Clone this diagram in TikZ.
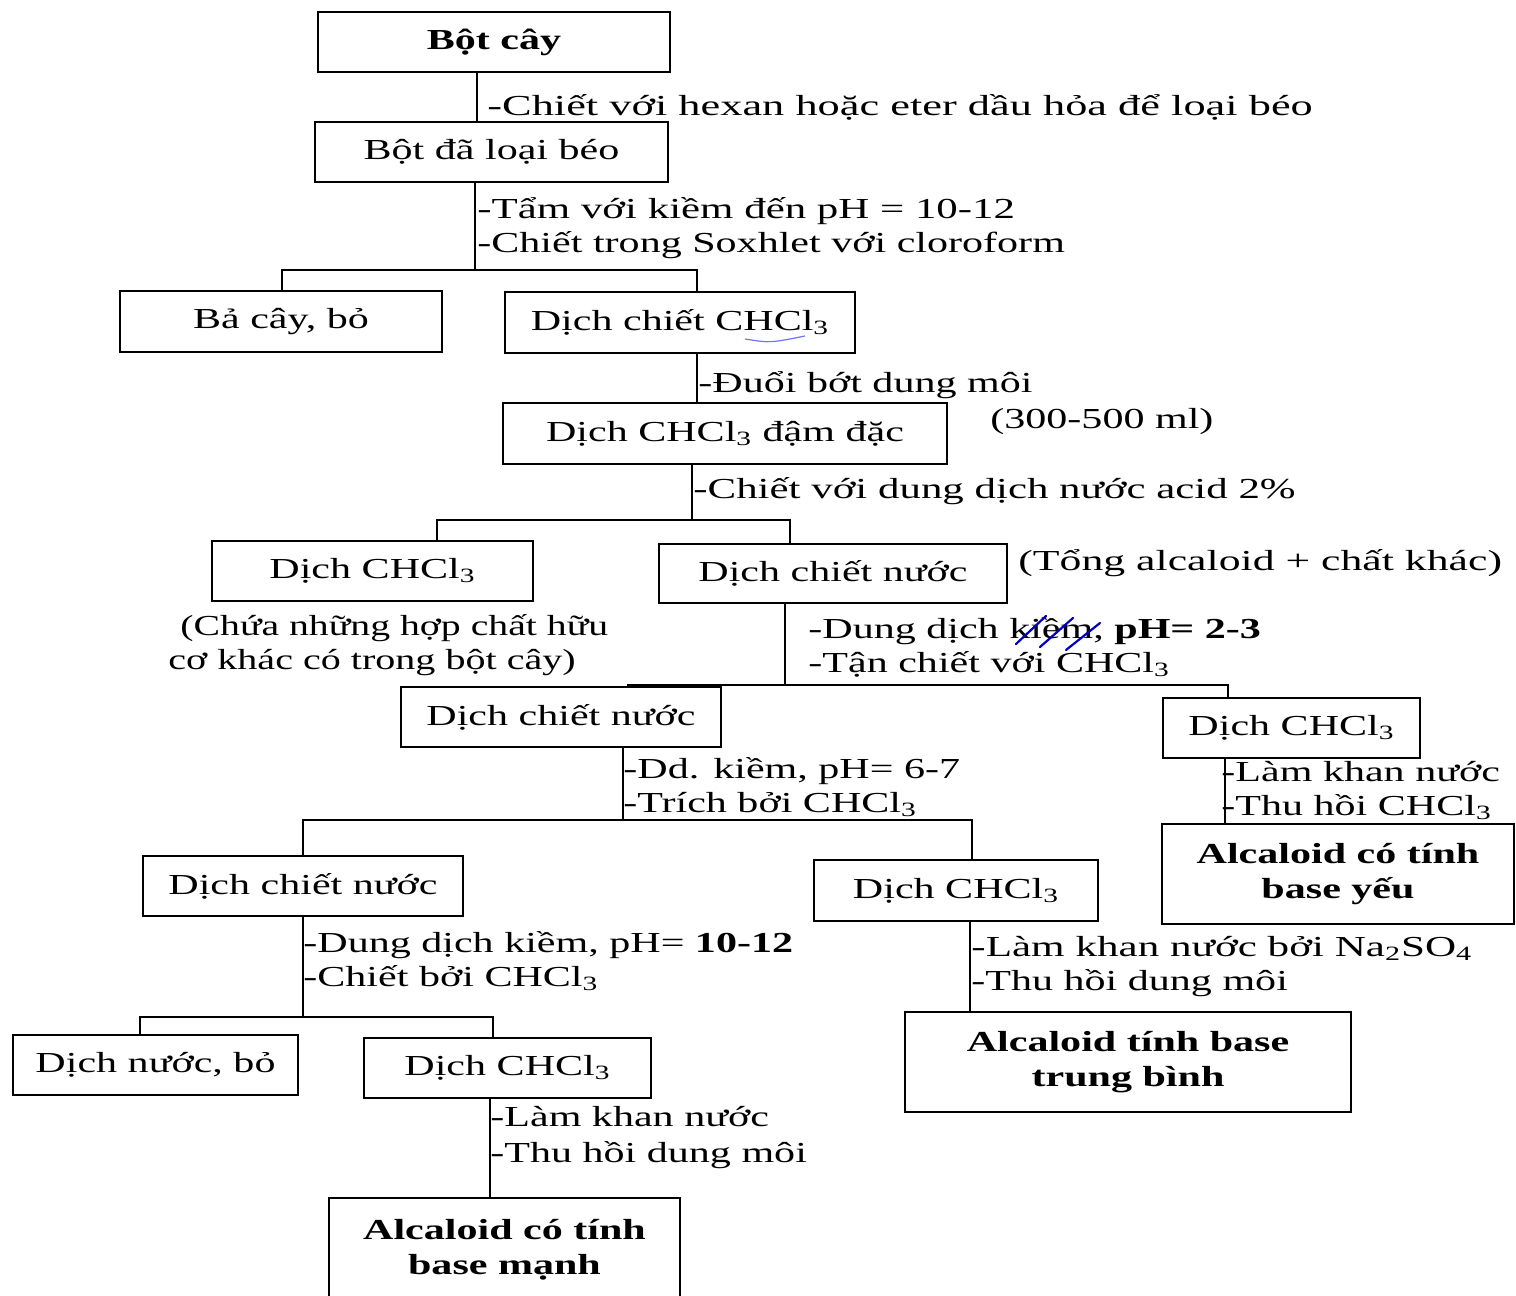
\documentclass[tikz,border=0pt]{standalone}
\usepackage{fontspec}
\setmainfont{Liberation Serif}[FakeStretch=1.45]
\newcommand{\chcl}{CHCl\textsubscript{3}}
\begin{document}
\begin{tikzpicture}[x=0.5pt,y=-0.5pt,
 box/.style={draw, line width=1.2pt, inner sep=0pt, align=center},
 lbl/.style={anchor=base west, inner sep=0pt},
 conn/.style={line width=1pt},
 font=\fontsize{14.5}{17.5}\selectfont]
\useasboundingbox (0,0) rectangle (1516,1296);
\fill[white] (0,0) rectangle (1516,1296);
% boxes
\node[box, minimum width=176pt, minimum height=30pt] (b1) at (494,42) {\textbf{Bột cây}};
\node[box, minimum width=176.5pt, minimum height=30pt] (b2) at (491.5,152) {Bột đã loại béo};
\node[box, minimum width=161pt, minimum height=30.5pt] (b3) at (281,321.5) {Bả cây, bỏ};
\node[box, minimum width=175pt, minimum height=30.5pt] (b4) at (680,322.5) {Dịch chiết \chcl};
\node[box, minimum width=222pt, minimum height=30.5pt] (b5) at (725,433.5) {Dịch \chcl{} đậm đặc};
\node[box, minimum width=160.5pt, minimum height=30pt] (b6) at (372.5,571) {Dịch \chcl};
\node[box, minimum width=174pt, minimum height=29.5pt] (b7) at (833,573.5) {Dịch chiết nước};
\node[box, minimum width=160pt, minimum height=30pt] (b8) at (561,717) {Dịch chiết nước};
\node[box, minimum width=128.5pt, minimum height=30pt] (b9) at (1291.5,728) {Dịch \chcl};
\node[box, minimum width=176pt, minimum height=50pt] (b10) at (1338,874) {\textbf{Alcaloid có tính}\\\textbf{base yếu}};
\node[box, minimum width=160pt, minimum height=30pt] (b11) at (303,886) {Dịch chiết nước};
\node[box, minimum width=142pt, minimum height=30.5pt] (b12) at (956,890.5) {Dịch \chcl};
\node[box, minimum width=223pt, minimum height=50pt] (b13) at (1128,1062) {\textbf{Alcaloid tính base}\\\textbf{trung bình}};
\node[box, minimum width=142.5pt, minimum height=30pt] (b14) at (155.5,1065) {Dịch nước, bỏ};
\node[box, minimum width=143.5pt, minimum height=30pt] (b15) at (507.5,1068) {Dịch \chcl};
\node[box, minimum width=175.5pt, minimum height=52pt] (b16) at (504.5,1250) {\textbf{Alcaloid có tính}\\\textbf{base mạnh}};
% connector coordinates
\coordinate (t1) at (477,0);
\coordinate (s2) at (475,270); \coordinate (s2L) at (282,270); \coordinate (s2R) at (697,270);
\coordinate (t4) at (697,0);
\coordinate (s5) at (692,520); \coordinate (s5L) at (437,520); \coordinate (s5R) at (790,520);
\coordinate (s7) at (785,685); \coordinate (s7L) at (628,685); \coordinate (s7R) at (1228,685);
\coordinate (t9) at (1225,0);
\coordinate (s8) at (623,820); \coordinate (s8L) at (303,820); \coordinate (s8R) at (972,820);
\coordinate (s11) at (303,1017); \coordinate (s11L) at (140,1017); \coordinate (s11R) at (493,1017);
\coordinate (t12) at (970,0);
\coordinate (t15) at (490,0);
% connectors
\draw[conn] (b1.south -| t1) -- (b2.north -| t1);
\draw[conn] (b2.south -| s2) -- (s2);
\draw[conn] (b3.north -| s2L) -- (s2L) -- (s2R) -- (b4.north -| s2R);
\draw[conn] (b4.south -| t4) -- (b5.north -| t4);
\draw[conn] (b5.south -| s5) -- (s5);
\draw[conn] (b6.north -| s5L) -- (s5L) -- (s5R) -- (b7.north -| s5R);
\draw[conn] (b7.south -| s7) -- (s7);
\draw[conn] (b8.north -| s7L) -- (s7L) -- (s7R) -- (b9.north -| s7R);
\draw[conn] (b9.south -| t9) -- (b10.north -| t9);
\draw[conn] (b8.south -| s8) -- (s8);
\draw[conn] (b11.north -| s8L) -- (s8L) -- (s8R) -- (b12.north -| s8R);
\draw[conn] (b11.south -| s11) -- (s11);
\draw[conn] (b14.north -| s11L) -- (s11L) -- (s11R) -- (b15.north -| s11R);
\draw[conn] (b12.south -| t12) -- (b13.north -| t12);
\draw[conn] (b15.south -| t15) -- (b16.north -| t15);
% labels
\node[lbl] (l1) at (487,115) {\scalebox{1.055}[1]{-Chiết với hexan hoặc eter dầu hỏa để loại béo}};
\node[lbl] (l2) at (477,218) {\scalebox{1.02}[1]{-Tẩm với kiềm đến pH = 10-12}};
\node[lbl] (l3) at (477,252) {-Chiết trong Soxhlet với cloroform};
\node[lbl] (l4) at (698,392) {-Đuổi bớt dung môi};
\node[lbl] (l5) at (990,428) {(300-500 ml)};
\node[lbl] (l6) at (693,498) {\scalebox{1.02}[1]{-Chiết với dung dịch nước acid 2\%}};
\node[lbl] (l7) at (1018,570) {\scalebox{1.04}[1]{(Tổng alcaloid + chất khác)}};
\node[lbl] (l8) at (180,635) {\scalebox{0.945}[1]{(Chứa những hợp chất hữu}};
\node[lbl] (l9) at (168,669) {\scalebox{0.953}[1]{cơ khác có trong bột cây)}};
\node[lbl] (l10) at (808,638) {-Dung dịch kiềm, \textbf{pH= 2-3}};
\node[lbl] (l11) at (808,672) {-Tận chiết với \chcl};
\node[lbl] (l12) at (1221,781) {-Làm khan nước};
\node[lbl] (l13) at (1221,815) {-Thu hồi \chcl};
\node[lbl] (l14) at (623,778) {-Dd. kiềm, pH= 6-7};
\node[lbl] (l15) at (623,812) {-Trích bởi \chcl};
\node[lbl] (l16) at (303,952) {-Dung dịch kiềm, pH= \textbf{10-12}};
\node[lbl] (l17) at (303,986) {-Chiết bởi \chcl};
\node[lbl] (l18) at (971,956) {\scalebox{1.025}[1]{-Làm khan nước bởi Na\textsubscript{2}SO\textsubscript{4}}};
\node[lbl] (l19) at (971,990) {-Thu hồi dung môi};
\node[lbl] (l20) at (490,1126) {-Làm khan nước};
\node[lbl] (l21) at (490,1162) {-Thu hồi dung môi};
% blue pen marks
\draw[blue!75!black, line width=1.1pt, line cap=round] (1016,644) -- (1046,616) (1040,647) -- (1073,618) (1066,650) -- (1100,623);
\draw[blue!55, line width=0.6pt] (745,339) .. controls (770,343) .. (805,336);
\end{tikzpicture}
\end{document}
